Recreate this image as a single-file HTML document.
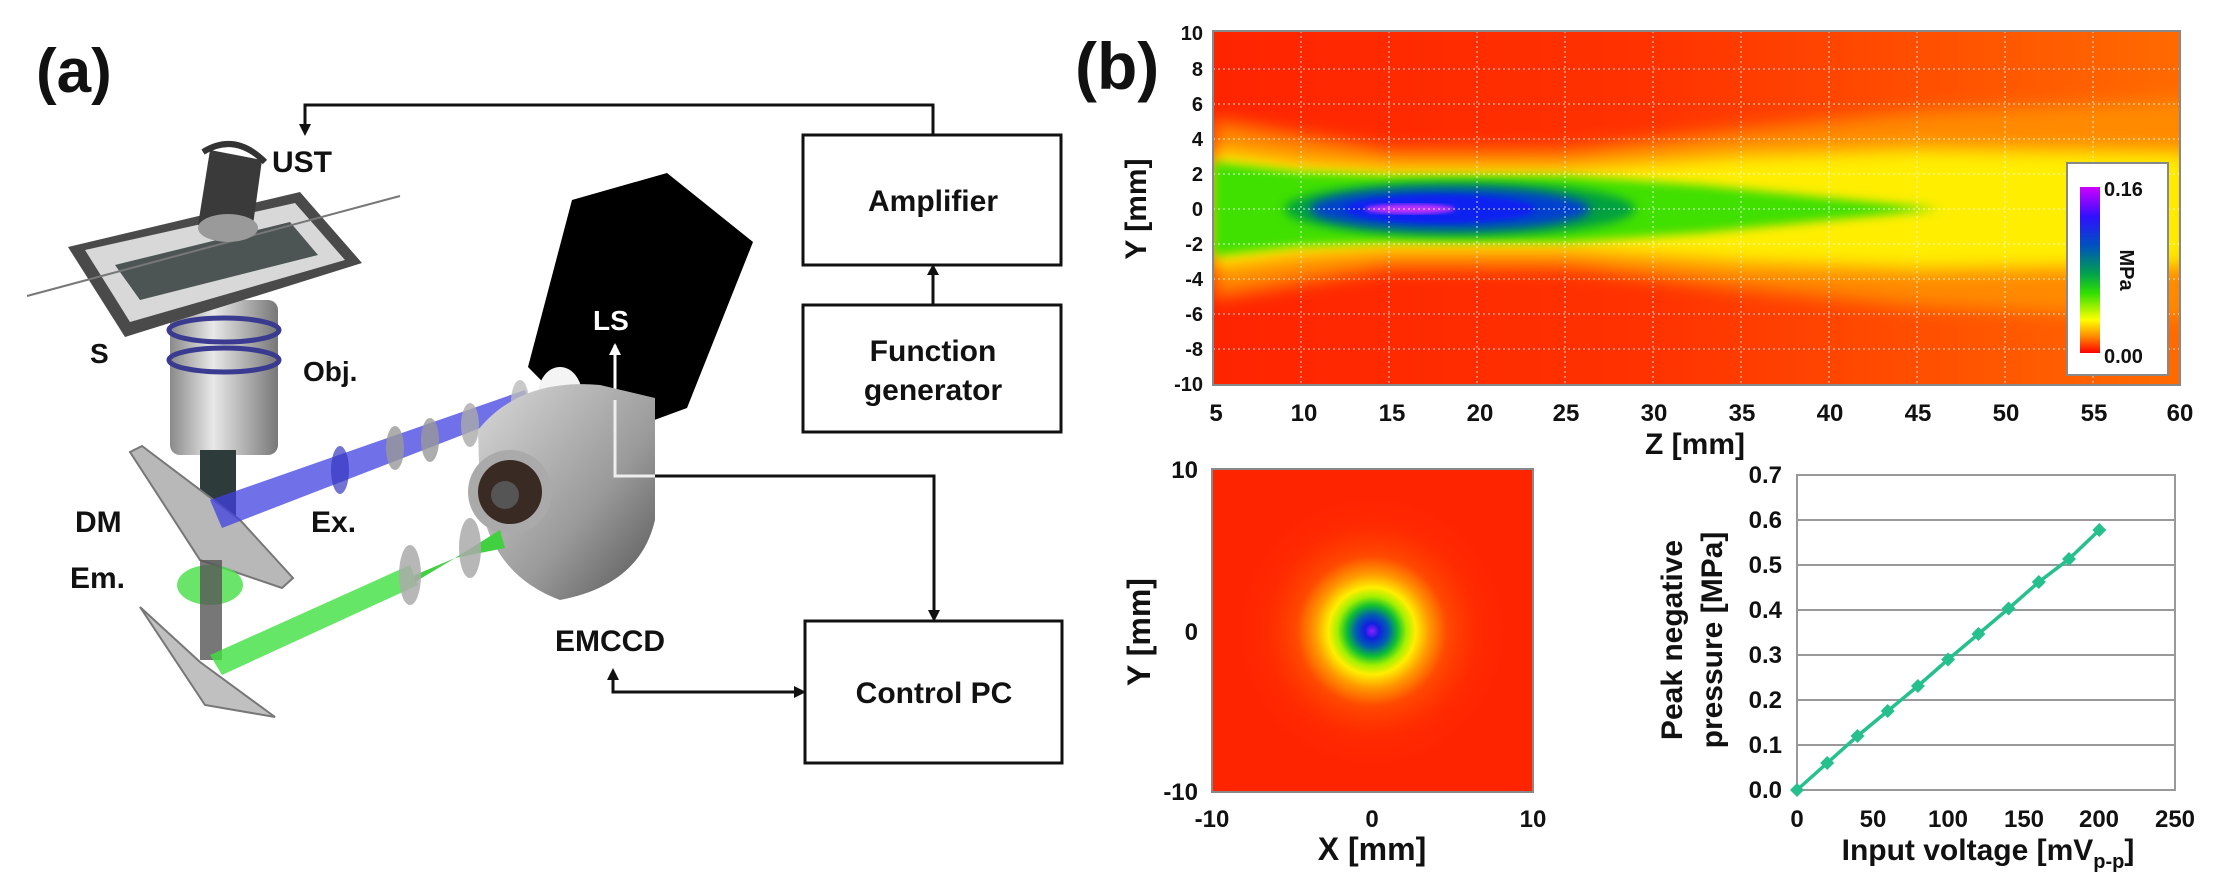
<!DOCTYPE html>
<html><head><meta charset="utf-8"><style>
html,body{margin:0;padding:0;background:#fff;}
svg{display:block;}
text{font-family:"Liberation Sans",Arial,sans-serif;font-weight:bold;fill:#111;}
</style></head><body>
<svg width="2218" height="891" viewBox="0 0 2218 891" xmlns="http://www.w3.org/2000/svg">
<defs>
  <filter id="b8" x="-20%" y="-50%" width="140%" height="200%"><feGaussianBlur stdDeviation="9"/></filter>
  <filter id="b5" x="-20%" y="-50%" width="140%" height="200%"><feGaussianBlur stdDeviation="5"/></filter>
  <filter id="b3"><feGaussianBlur stdDeviation="2"/></filter>
  <clipPath id="hm"><rect x="1213" y="31" width="967" height="354"/></clipPath>
  <clipPath id="sm"><rect x="1212" y="469" width="321" height="323"/></clipPath>
  <linearGradient id="bg" x1="0" x2="1" y1="0" y2="0">
    <stop offset="0" stop-color="#ff2400"/><stop offset="0.45" stop-color="#ff3200"/><stop offset="1" stop-color="#ff6a00"/>
  </linearGradient>
  <linearGradient id="cb" x1="0" x2="0" y1="0" y2="1">
    <stop offset="0" stop-color="#d000ff"/><stop offset="0.18" stop-color="#3010ff"/><stop offset="0.35" stop-color="#0050c0"/>
    <stop offset="0.52" stop-color="#00a050"/><stop offset="0.64" stop-color="#30e000"/><stop offset="0.8" stop-color="#ffff00"/>
    <stop offset="0.9" stop-color="#ff8a00"/><stop offset="1" stop-color="#ff0000"/>
  </linearGradient>
  <radialGradient id="spot" cx="0.5" cy="0.5" r="0.5">
    <stop offset="0" stop-color="#9020ff"/><stop offset="0.05" stop-color="#1020e0"/><stop offset="0.11" stop-color="#0060b0"/>
    <stop offset="0.17" stop-color="#10c030"/><stop offset="0.23" stop-color="#a0f000"/><stop offset="0.29" stop-color="#ffee00"/>
    <stop offset="0.38" stop-color="#ff9a00"/><stop offset="0.5" stop-color="#ff4a00"/><stop offset="0.7" stop-color="#ff3000" stop-opacity="0.6"/>
    <stop offset="1" stop-color="#ff2000" stop-opacity="0"/>
  </radialGradient>
  <linearGradient id="obj" x1="0" x2="1"><stop offset="0" stop-color="#8a8a8a"/><stop offset="0.4" stop-color="#e8e8e8"/><stop offset="1" stop-color="#777"/></linearGradient>
  <linearGradient id="cam" x1="0" x2="1" y1="0" y2="1"><stop offset="0" stop-color="#d8d8d8"/><stop offset="0.6" stop-color="#9a9a9a"/><stop offset="1" stop-color="#555"/></linearGradient>
</defs>

<!-- ============ PANEL (a) ============ -->
<text x="36" y="92" font-size="62">(a)</text>
<!-- connections -->
<polyline points="305,130 305,105 933,105 933,135" fill="none" stroke="#111" stroke-width="3"/>
<polygon points="299,124 311,124 305,136" fill="#111"/>
<rect x="803" y="135" width="258" height="130" fill="#fff" stroke="#111" stroke-width="3"/>
<rect x="803" y="305" width="258" height="127" fill="#fff" stroke="#111" stroke-width="3"/>
<line x1="933" y1="305" x2="933" y2="272" stroke="#111" stroke-width="3"/>
<polygon points="927,275 939,275 933,264" fill="#111"/>
<rect x="805" y="621" width="257" height="142" fill="#fff" stroke="#111" stroke-width="3"/>
<polyline points="615,476 934,476 934,612" fill="none" stroke="#111" stroke-width="3"/>
<polygon points="928,610 940,610 934,622" fill="#111"/>
<polyline points="613,678 613,692 796,692" fill="none" stroke="#111" stroke-width="3"/>
<polygon points="607,680 619,680 613,668" fill="#111"/>
<polygon points="794,686 794,698 806,692" fill="#111"/>
<text x="933" y="211" font-size="30" text-anchor="middle">Amplifier</text>
<text x="933" y="361" font-size="30" text-anchor="middle">Function</text>
<text x="933" y="400" font-size="30" text-anchor="middle">generator</text>
<text x="934" y="703" font-size="30" text-anchor="middle">Control PC</text>

<!-- objective -->
<rect x="170" y="300" width="108" height="155" rx="10" fill="url(#obj)"/>
<ellipse cx="224" cy="330" rx="55" ry="12" fill="none" stroke="#3a3a90" stroke-width="5"/>
<ellipse cx="224" cy="360" rx="55" ry="12" fill="none" stroke="#3a3a90" stroke-width="5"/>
<rect x="200" y="450" width="36" height="90" fill="#2d3b3b"/>
<!-- stage -->
<polygon points="68,247 300,192 362,263 125,337" fill="#4a4a4a"/>
<polygon points="85,250 295,203 345,260 130,322" fill="#d8d8d8"/>
<polygon points="115,265 290,222 318,255 140,300" fill="#4c5553"/>
<line x1="27" y1="296" x2="400" y2="196" stroke="#777" stroke-width="2"/>
<!-- transducer -->
<polygon points="210,150 262,160 252,232 198,225" fill="#3a3a3a"/>
<ellipse cx="228" cy="228" rx="30" ry="14" fill="#9a9a9a"/>
<path d="M203,152 Q235,132 265,162" fill="none" stroke="#333" stroke-width="6"/>
<text x="272" y="172" font-size="30">UST</text>
<text x="90" y="363" font-size="28">S</text>
<text x="303" y="381" font-size="28">Obj.</text>
<!-- dichroic mirror -->
<polygon points="130,452 142,446 240,520 293,578 282,588 200,560" fill="#b8b8b8" stroke="#777" stroke-width="2"/>
<!-- blue beam -->
<polygon points="210,500 525,390 532,408 222,528" fill="#4040e0" opacity="0.75"/>
<line x1="520" y1="400" x2="640" y2="360" stroke="#4040c0" stroke-width="2"/>
<ellipse cx="340" cy="470" rx="9" ry="24" fill="#3838c0" opacity="0.7"/>
<ellipse cx="395" cy="448" rx="9" ry="22" fill="#999" opacity="0.8"/>
<ellipse cx="430" cy="440" rx="9" ry="22" fill="#999" opacity="0.8"/>
<ellipse cx="470" cy="425" rx="9" ry="22" fill="#aaa" opacity="0.8"/>
<ellipse cx="520" cy="402" rx="9" ry="22" fill="#bbb" opacity="0.8"/>
<!-- light source -->
<polygon points="572,200 667,173 753,242 687,408 600,440 528,367" fill="#000"/>
<ellipse cx="560" cy="395" rx="22" ry="28" fill="#f4f4f4"/>
<text x="593" y="330" font-size="28" style="fill:#fff">LS</text>
<line x1="615" y1="345" x2="615" y2="476" stroke="#fff" stroke-width="3"/>
<polygon points="609,355 621,355 615,343" fill="#fff"/>
<!-- camera -->
<path d="M478,430 Q520,378 600,385 L655,398 L655,520 Q640,585 560,600 Q492,575 480,500 Z" fill="url(#cam)"/>
<circle cx="510" cy="492" r="42" fill="#aaa"/>
<circle cx="510" cy="492" r="32" fill="#3a2a24"/>
<circle cx="505" cy="495" r="14" fill="#555"/>
<polyline points="615,400 615,476 655,476" fill="none" stroke="#eee" stroke-width="3"/>
<text x="555" y="651" font-size="30">EMCCD</text>
<!-- emission path -->
<ellipse cx="210" cy="585" rx="33" ry="20" fill="#50e050" opacity="0.85"/>
<rect x="200" y="560" width="22" height="100" fill="#555" opacity="0.8"/>
<polygon points="140,607 200,662 275,717 205,705" fill="#c0c0c0" stroke="#777" stroke-width="2"/>
<polygon points="210,655 410,565 418,585 222,675" fill="#40e040" opacity="0.8"/>
<polygon points="415,575 455,558 415,582" fill="#40d040"/>
<polygon points="455,558 500,530 505,548" fill="#40d040"/>
<ellipse cx="410" cy="575" rx="11" ry="30" fill="#aaa" opacity="0.85"/>
<ellipse cx="470" cy="548" rx="11" ry="30" fill="#aaa" opacity="0.85"/>
<text x="75" y="532" font-size="30">DM</text>
<text x="311" y="532" font-size="30">Ex.</text>
<text x="70" y="588" font-size="30">Em.</text>

<!-- ============ PANEL (b) top heatmap ============ -->
<text x="1075" y="89" font-size="66">(b)</text>
<g clip-path="url(#hm)">
  <rect x="1213" y="31" width="967" height="354" fill="url(#bg)"/>
  <!-- orange band -->
  <polygon filter="url(#b8)" fill="#ff8a00" points="1213,120 1300,135 1390,150 1565,150 1740,130 1920,112 2190,100 2190,318 1920,306 1740,288 1565,268 1390,268 1300,283 1213,298"/>
  <!-- yellow band -->
  <polygon filter="url(#b8)" fill="#ffee00" points="1213,150 1300,162 1390,168 1565,168 1740,155 1920,148 2190,152 2190,266 1920,270 1740,263 1565,250 1390,250 1300,256 1213,268"/>
  <!-- green band -->
  <polygon filter="url(#b5)" fill="#40e000" points="1213,162 1300,172 1390,176 1565,176 1700,185 1830,198 1940,209 1830,220 1700,233 1565,242 1390,242 1300,246 1213,256"/>
  <!-- dark green/teal core edge -->
  <ellipse cx="1460" cy="209" rx="175" ry="27" fill="#00a040" filter="url(#b5)"/>
  <ellipse cx="1450" cy="209" rx="140" ry="21" fill="#0040d0" filter="url(#b5)"/>
  <ellipse cx="1440" cy="209" rx="95" ry="14" fill="#1020f0" filter="url(#b3)"/>
  <ellipse cx="1410" cy="209" rx="45" ry="5" fill="#c030ff" filter="url(#b3)"/>
  <g stroke="#fff" stroke-opacity="0.55" stroke-width="1.5" stroke-dasharray="2,3">
    <line x1="1301" y1="31" x2="1301" y2="385"/><line x1="1389" y1="31" x2="1389" y2="385"/>
    <line x1="1477" y1="31" x2="1477" y2="385"/><line x1="1565" y1="31" x2="1565" y2="385"/>
    <line x1="1653" y1="31" x2="1653" y2="385"/><line x1="1741" y1="31" x2="1741" y2="385"/>
    <line x1="1829" y1="31" x2="1829" y2="385"/><line x1="1917" y1="31" x2="1917" y2="385"/>
    <line x1="2005" y1="31" x2="2005" y2="385"/><line x1="2093" y1="31" x2="2093" y2="385"/>
    <line x1="1213" y1="69" x2="2180" y2="69"/><line x1="1213" y1="104" x2="2180" y2="104"/>
    <line x1="1213" y1="139" x2="2180" y2="139"/><line x1="1213" y1="174" x2="2180" y2="174"/>
    <line x1="1213" y1="209" x2="2180" y2="209"/><line x1="1213" y1="244" x2="2180" y2="244"/>
    <line x1="1213" y1="279" x2="2180" y2="279"/><line x1="1213" y1="314" x2="2180" y2="314"/>
    <line x1="1213" y1="349" x2="2180" y2="349"/>
  </g>
</g>
<rect x="1213" y="31" width="967" height="354" fill="none" stroke="#888" stroke-width="2"/>
<!-- colorbar -->
<rect x="2067" y="163" width="101" height="212" fill="#fff" stroke="#888" stroke-width="2"/>
<rect x="2080" y="187" width="20" height="166" fill="url(#cb)"/>
<text x="2104" y="196" font-size="20">0.16</text>
<text x="2104" y="363" font-size="20">0.00</text>
<text transform="translate(2120,270) rotate(90)" font-size="20" text-anchor="middle">MPa</text>
<!-- y ticks -->
<g font-size="20" text-anchor="end">
  <text x="1203" y="40">10</text><text x="1203" y="76">8</text><text x="1203" y="111">6</text>
  <text x="1203" y="146">4</text><text x="1203" y="181">2</text><text x="1203" y="216">0</text>
  <text x="1203" y="251">-2</text><text x="1203" y="286">-4</text><text x="1203" y="321">-6</text>
  <text x="1203" y="356">-8</text><text x="1203" y="391">-10</text>
</g>
<text transform="translate(1146,209) rotate(-90)" font-size="30" text-anchor="middle">Y [mm]</text>
<g font-size="24" text-anchor="middle">
  <text x="1216" y="421">5</text><text x="1304" y="421">10</text><text x="1392" y="421">15</text>
  <text x="1480" y="421">20</text><text x="1566" y="421">25</text><text x="1654" y="421">30</text>
  <text x="1742" y="421">35</text><text x="1830" y="421">40</text><text x="1918" y="421">45</text>
  <text x="2006" y="421">50</text><text x="2094" y="421">55</text><text x="2180" y="421">60</text>
</g>
<text x="1695" y="454" font-size="30" text-anchor="middle">Z [mm]</text>

<!-- ============ small heatmap ============ -->
<g clip-path="url(#sm)">
  <rect x="1212" y="469" width="321" height="323" fill="#ff2400"/>
  <circle cx="1372" cy="631" r="150" fill="url(#spot)"/>
</g>
<rect x="1212" y="469" width="321" height="323" fill="none" stroke="#888" stroke-width="2"/>
<g font-size="24">
  <text x="1198" y="478" text-anchor="end">10</text>
  <text x="1198" y="640" text-anchor="end">0</text>
  <text x="1198" y="800" text-anchor="end">-10</text>
  <text x="1212" y="827" text-anchor="middle">-10</text>
  <text x="1372" y="827" text-anchor="middle">0</text>
  <text x="1533" y="827" text-anchor="middle">10</text>
</g>
<text transform="translate(1150,632) rotate(-90)" font-size="32" text-anchor="middle">Y [mm]</text>
<text x="1372" y="860" font-size="32" text-anchor="middle">X [mm]</text>

<!-- ============ line chart ============ -->
<g stroke="#999" stroke-width="2">
  <line x1="1797" y1="745" x2="2175" y2="745"/><line x1="1797" y1="700" x2="2175" y2="700"/>
  <line x1="1797" y1="655" x2="2175" y2="655"/><line x1="1797" y1="610" x2="2175" y2="610"/>
  <line x1="1797" y1="565" x2="2175" y2="565"/><line x1="1797" y1="520" x2="2175" y2="520"/>
</g>
<rect x="1797" y="475" width="378" height="315" fill="none" stroke="#999" stroke-width="2"/>
<polyline fill="none" stroke="#25c08c" stroke-width="3.5"
 points="1797,790 1827.2,763 1857.5,736 1887.7,711 1917.9,686 1948.1,659.5 1978.4,634 2008.6,608.5 2038.8,582 2069,559 2099.3,530"/>
<g fill="#25c08c">
  <polygon points="1797,783 1804,790 1797,797 1790,790"/>
  <polygon points="1827.2,756 1834.2,763 1827.2,770 1820.2,763"/>
  <polygon points="1857.5,729 1864.5,736 1857.5,743 1850.5,736"/>
  <polygon points="1887.7,704 1894.7,711 1887.7,718 1880.7,711"/>
  <polygon points="1917.9,679 1924.9,686 1917.9,693 1910.9,686"/>
  <polygon points="1948.1,652.5 1955.1,659.5 1948.1,666.5 1941.1,659.5"/>
  <polygon points="1978.4,627 1985.4,634 1978.4,641 1971.4,634"/>
  <polygon points="2008.6,601.5 2015.6,608.5 2008.6,615.5 2001.6,608.5"/>
  <polygon points="2038.8,575 2045.8,582 2038.8,589 2031.8,582"/>
  <polygon points="2069,552 2076,559 2069,566 2062,559"/>
  <polygon points="2099.3,523 2106.3,530 2099.3,537 2092.3,530"/>
</g>
<g font-size="24" text-anchor="end">
  <text x="1782" y="798">0.0</text><text x="1782" y="753">0.1</text><text x="1782" y="708">0.2</text>
  <text x="1782" y="663">0.3</text><text x="1782" y="618">0.4</text><text x="1782" y="573">0.5</text>
  <text x="1782" y="528">0.6</text><text x="1782" y="483">0.7</text>
</g>
<g font-size="24" text-anchor="middle">
  <text x="1797" y="827">0</text><text x="1873" y="827">50</text><text x="1948" y="827">100</text>
  <text x="2024" y="827">150</text><text x="2099" y="827">200</text><text x="2175" y="827">250</text>
</g>
<text x="1988" y="860" font-size="30" text-anchor="middle">Input voltage [mV<tspan font-size="20" dy="8">p-p</tspan><tspan dy="-8">]</tspan></text>
<text transform="translate(1682,640) rotate(-90)" font-size="30" text-anchor="middle">Peak negative</text>
<text transform="translate(1722,640) rotate(-90)" font-size="30" text-anchor="middle">pressure [MPa]</text>
</svg>
</body></html>
